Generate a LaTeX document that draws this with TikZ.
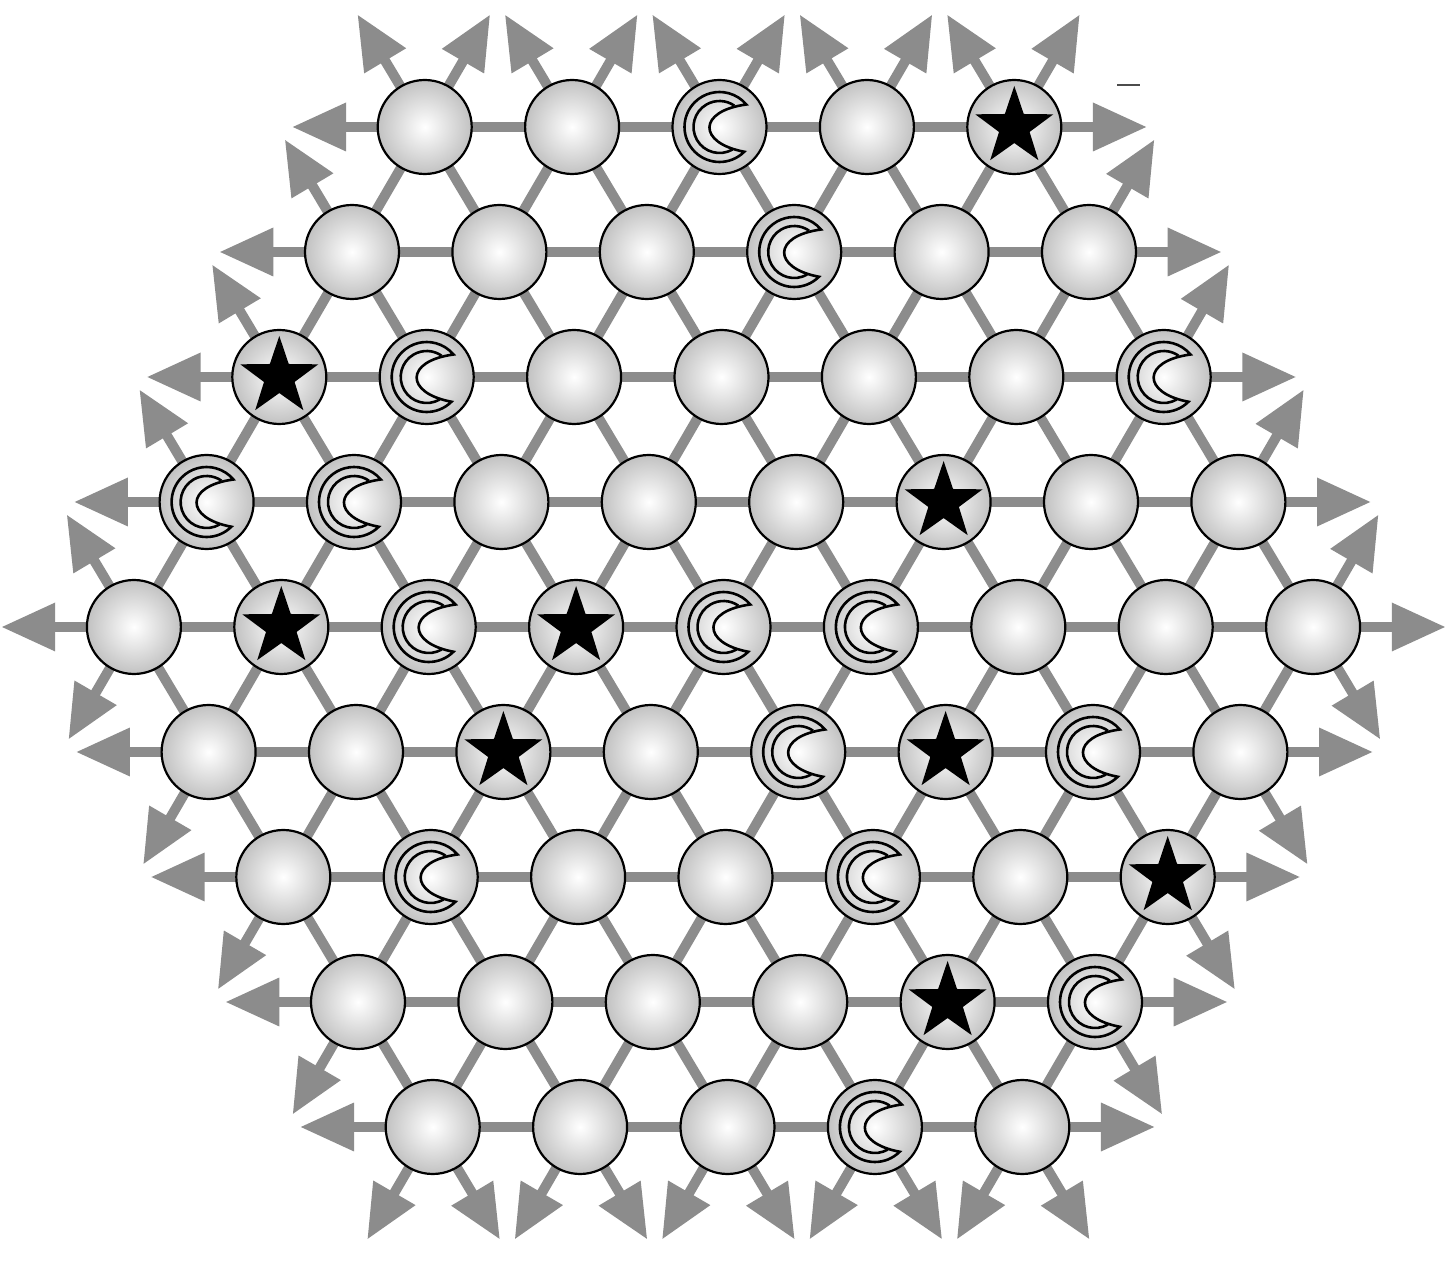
\documentclass[tikz,border=0pt]{standalone}
\usetikzlibrary{arrows.meta,shapes.geometric,calc}
\definecolor{edgegray}{RGB}{140,140,140}
\begin{document}
\begin{tikzpicture}[x=0.5pt,y=-0.5pt,
  edge/.style={draw=edgegray,line width=5pt},
  arr/.style={edge,-{Triangle[length=27pt,width=23pt]}},
  ball/.style={circle,draw=black,line width=1.1pt,minimum size=47pt,inner sep=0pt,inner color=white,outer color=black!24},
  starmark/.style={star,star points=5,star point ratio=2.55,fill=black,minimum size=41pt,inner sep=0pt},
  moonline/.style={draw=black,line width=1.3pt},
  moon/.pic={
    \draw[moonline] (45:35) arc[start angle=45,end angle=320,radius=35]
       .. controls (-22,-16) and (-22,16) .. (45:35) -- cycle;
    \draw[moonline] (60:26) arc[start angle=60,end angle=305,radius=26];
  }
]
\fill[white] (0,0) rectangle (1453,1261);
\useasboundingbox (0,0) rectangle (1453,1261);
% lattice positions
\foreach \R in {0,...,8}{\foreach \Q in {0,...,8}{
  \pgfmathtruncatemacro\S{\Q+\R}
  \ifnum\S>3 \ifnum\S<13
    \pgfmathsetmacro\X{723.5+(\R-4)*1.0+((\Q-4)+(\R-4)/2)*147.4}
    \pgfmathsetmacro\Y{627+(\R-4)*125}
    \coordinate (n\Q\R) at (\X,\Y);
  \fi\fi
}}
% connectors and outward arrows
\foreach \R in {0,...,8}{\foreach \Q in {0,...,8}{
  \pgfmathtruncatemacro\S{\Q+\R}
  \ifnum\S>3 \ifnum\S<13
    \foreach \dQ/\dR in {1/0,-1/0,0/1,-1/1,0/-1,1/-1}{
      \pgfmathtruncatemacro\QQ{\Q+\dQ}
      \pgfmathtruncatemacro\RR{\R+\dR}
      \pgfmathtruncatemacro\SS{\QQ+\RR}
      \pgfmathtruncatemacro\ok{(\QQ>=0)&&(\QQ<=8)&&(\RR>=0)&&(\RR<=8)&&(\SS>=4)&&(\SS<=12)}
      \ifnum\ok=1
        \ifnum\dR>0
          \draw[edge] (n\Q\R) -- (n\QQ\RR);
        \else
          \ifnum\dQ=1 \ifnum\dR=0
            \draw[edge] (n\Q\R) -- (n\QQ\RR);
          \fi\fi
        \fi
      \else
        \pgfmathsetmacro\X{723.5+(\RR-4)*1.0+((\QQ-4)+(\RR-4)/2)*147.4}
        \pgfmathsetmacro\Y{627+(\RR-4)*125}
        \draw[arr] (n\Q\R) -- ($(n\Q\R)!0.9!(\X,\Y)$);
      \fi
    }
  \fi\fi
}}
% balls
\foreach \R in {0,...,8}{\foreach \Q in {0,...,8}{
  \pgfmathtruncatemacro\S{\Q+\R}
  \ifnum\S>3 \ifnum\S<13
    \node[ball] (b\Q\R) at (n\Q\R) {};
  \fi\fi
}}
% stars
\foreach \n in {80,22,63,14,34,25,55,66,47}{
  \node[starmark] (s\n) at (n\n) {};
}
% moons
\foreach \n in {60,61,32,82,13,23,24,44,54,45,65,16,46,57,38}{
  \pic at (n\n) {moon};
}
% small stray mark
\draw[black!70,line width=1pt] (1117,85) -- (1140,85);
\end{tikzpicture}
\end{document}
